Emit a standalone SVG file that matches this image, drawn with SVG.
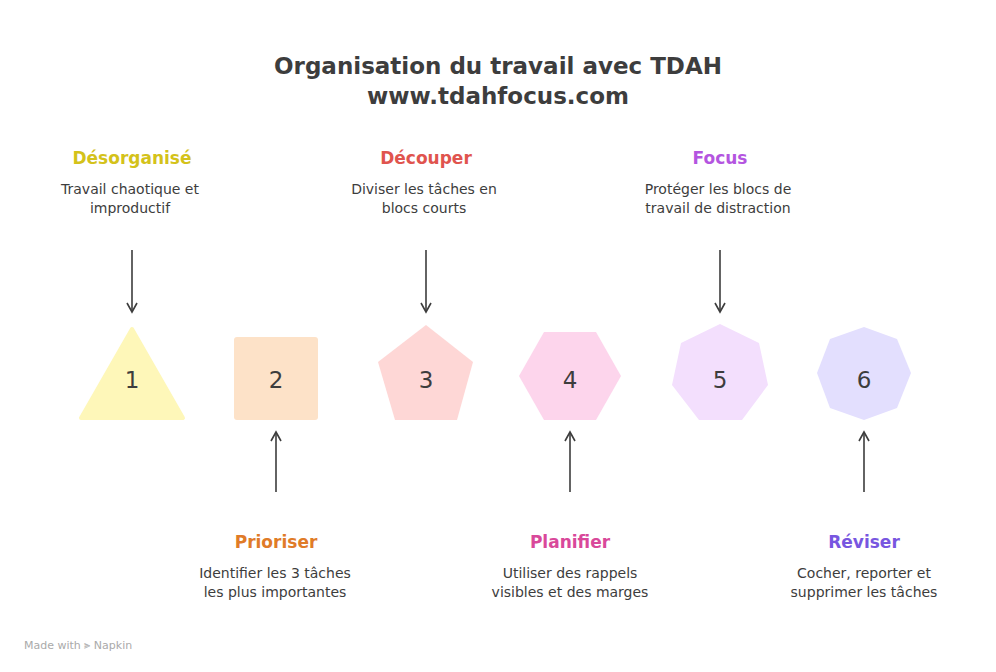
<svg xmlns="http://www.w3.org/2000/svg" width="996" height="672" viewBox="0 0 996 672">
<style>
text{font-family:"DejaVu Sans","Liberation Sans",sans-serif;text-anchor:middle;}
.t{font-size:23px;font-weight:bold;fill:#3d3d3d}
.h{font-size:17px;font-weight:bold}
.d{font-size:14px;fill:#3d3d3d}
.n{font-size:23px;fill:#3d3d3d}
.c{stroke:#3d3d3d;stroke-width:1.6;fill:none;marker-end:url(#a)}
</style>
<defs><marker id="a" viewBox="0 0 12 12" refX="10" refY="6" markerWidth="12" markerHeight="12" markerUnits="userSpaceOnUse" orient="auto"><path d="M1 1L10 6L1 11" fill="none" stroke="#3d3d3d" stroke-width="1.6"/></marker></defs>
<rect width="996" height="672" fill="#fff"/>
<text class="t" x="498" y="74">Organisation du travail avec TDAH</text>
<text class="t" x="498" y="104">www.tdahfocus.com</text>
<g id="connectors">
<path class="c" d="M132 250V312"/><path class="c" d="M426 250V312"/><path class="c" d="M720 250V312"/>
<path class="c" d="M276 492V432"/><path class="c" d="M570 492V432"/><path class="c" d="M864 492V432"/>
</g>
<g id="n1"><path d="M132 329L183 418H81Z" fill="#fef7b9" stroke="#fef7b9" stroke-width="4" stroke-linejoin="round"/><text class="n" x="132" y="388">1</text>
<text class="h" x="132" y="164" fill="#d4c21a">Désorganisé</text><text class="d" x="130" y="194">Travail chaotique et</text><text class="d" x="130" y="213">improductif</text></g>
<g id="n2"><rect x="234" y="337" width="84" height="83" rx="3" fill="#fde2c8"/><text class="n" x="276" y="388">2</text>
<text class="h" x="276" y="548" fill="#e07b28">Prioriser</text><text class="d" x="275" y="578">Identifier les 3 tâches</text><text class="d" x="275" y="597">les plus importantes</text></g>
<g id="n3"><path d="M426 325L473 362L457 420H395L378 362Z" fill="#fed7d6"/><text class="n" x="426" y="388">3</text>
<text class="h" x="426" y="164" fill="#e0544e">Découper</text><text class="d" x="424" y="194">Diviser les tâches en</text><text class="d" x="424" y="213">blocs courts</text></g>
<g id="n4"><path d="M544 332H596L621 376L596 420H544L519 376Z" fill="#fdd5ec"/><text class="n" x="570" y="388">4</text>
<text class="h" x="570" y="548" fill="#d9489a">Planifier</text><text class="d" x="570" y="578">Utiliser des rappels</text><text class="d" x="570" y="597">visibles et des marges</text></g>
<g id="n5"><path d="M720 324L759 343L768 385L742 420H699L672 385L681 343Z" fill="#f3dffd"/><text class="n" x="720" y="388">5</text>
<text class="h" x="720" y="164" fill="#b455e0">Focus</text><text class="d" x="718" y="194">Protéger les blocs de</text><text class="d" x="718" y="213">travail de distraction</text></g>
<g id="n6"><path d="M864 327L897 339L911 373L897 408L864 420L830 408L817 373L830 339Z" fill="#e3dffe"/><text class="n" x="864" y="388">6</text>
<text class="h" x="864" y="548" fill="#7856e0">Réviser</text><text class="d" x="864" y="578">Cocher, reporter et</text><text class="d" x="864" y="597">supprimer les tâches</text></g>
<text x="24" y="649" style="text-anchor:start;font-size:11px;fill:#aaa">Made with ⫸ Napkin</text>
</svg>
